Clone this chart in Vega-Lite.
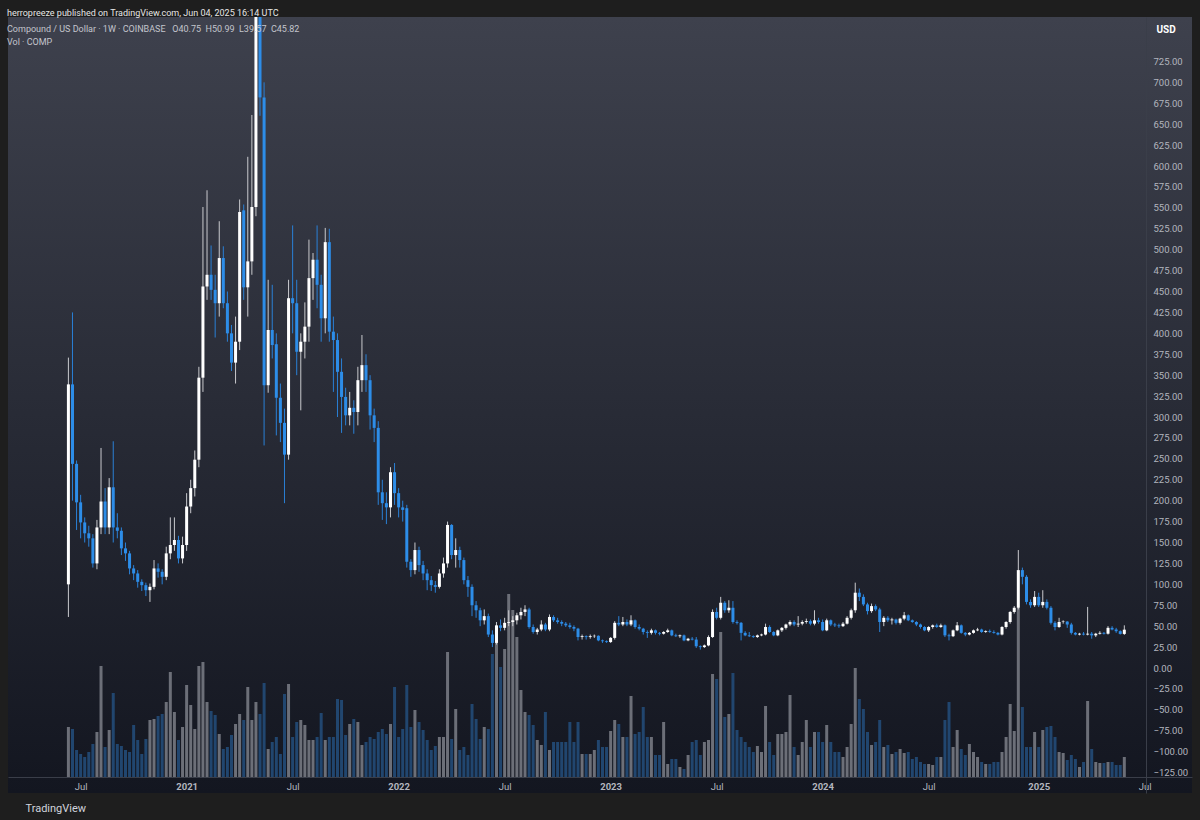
{
  "$schema": "https://vega.github.io/schema/vega-lite/v6.json",
  "width": 1184,
  "height": 776,
  "autosize": {"type": "none"},
  "padding": {"left": 8, "top": 17, "right": 8, "bottom": 27},
  "background": "#1e1e1e",
  "config": {
    "font": "Roboto",
    "view": {"stroke": null, "fill": {"gradient": "linear", "x1": 0, "y1": 0, "x2": 0, "y2": 1, "stops": [{"offset": 0, "color": "#3e414d"}, {"offset": 1, "color": "#131620"}]}}
  },
  "title": {
    "text": "herropreeze published on TradingView.com, Jun 04, 2025 16:14 UTC",
    "subtitle": ["\u00a0Compound / US Dollar · 1W · COINBASE\u00a0\u00a0 O40.75\u00a0\u00a0H50.99\u00a0\u00a0L39.57\u00a0\u00a0C45.82", "\u00a0Vol · COMP"],
    "anchor": "start", "frame": "group", "orient": "top", "offset": -30, "dx": -1,
    "color": "#e6e6e6", "fontSize": 9, "fontWeight": "normal", "font": "Roboto",
    "subtitleColor": "#c3c5cc", "subtitleFontSize": 9, "subtitleFont": "Roboto", "subtitleLineHeight": 13, "subtitlePadding": 7
  },
  "data": {"values": [
{"t":"2020-06-15","o":100,"h":371,"l":61,"c":339,"v":50},
{"t":"2020-06-22","o":339,"h":425,"l":200,"c":244,"v":48},
{"t":"2020-06-29","o":244,"h":248,"l":165,"c":198,"v":27},
{"t":"2020-07-06","o":198,"h":207,"l":155,"c":174,"v":23},
{"t":"2020-07-13","o":174,"h":180,"l":150,"c":161,"v":20},
{"t":"2020-07-20","o":161,"h":170,"l":145,"c":155,"v":25},
{"t":"2020-07-27","o":155,"h":160,"l":120,"c":125,"v":33},
{"t":"2020-08-03","o":125,"h":177,"l":118,"c":168,"v":45},
{"t":"2020-08-10","o":168,"h":263,"l":160,"c":199,"v":111},
{"t":"2020-08-17","o":199,"h":215,"l":160,"c":168,"v":30},
{"t":"2020-08-24","o":168,"h":227,"l":160,"c":216,"v":47},
{"t":"2020-08-31","o":216,"h":271,"l":150,"c":168,"v":84},
{"t":"2020-09-07","o":168,"h":185,"l":155,"c":164,"v":33},
{"t":"2020-09-14","o":164,"h":168,"l":135,"c":143,"v":31},
{"t":"2020-09-21","o":143,"h":150,"l":128,"c":137,"v":27},
{"t":"2020-09-28","o":137,"h":140,"l":112,"c":119,"v":25},
{"t":"2020-10-05","o":119,"h":123,"l":105,"c":113,"v":52},
{"t":"2020-10-12","o":113,"h":117,"l":96,"c":103,"v":37},
{"t":"2020-10-19","o":103,"h":106,"l":92,"c":99,"v":23},
{"t":"2020-10-26","o":99,"h":102,"l":86,"c":93,"v":38},
{"t":"2020-11-02","o":93,"h":101,"l":79,"c":97,"v":57},
{"t":"2020-11-09","o":97,"h":129,"l":94,"c":119,"v":58},
{"t":"2020-11-16","o":119,"h":125,"l":108,"c":115,"v":61},
{"t":"2020-11-23","o":115,"h":118,"l":100,"c":109,"v":63},
{"t":"2020-11-30","o":109,"h":145,"l":105,"c":137,"v":75},
{"t":"2020-12-07","o":137,"h":180,"l":130,"c":147,"v":105},
{"t":"2020-12-14","o":147,"h":180,"l":140,"c":153,"v":65},
{"t":"2020-12-21","o":153,"h":158,"l":125,"c":131,"v":37},
{"t":"2020-12-28","o":131,"h":157,"l":125,"c":147,"v":50},
{"t":"2021-01-04","o":147,"h":209,"l":140,"c":193,"v":92},
{"t":"2021-01-11","o":193,"h":225,"l":185,"c":215,"v":72},
{"t":"2021-01-18","o":215,"h":260,"l":205,"c":249,"v":48},
{"t":"2021-01-25","o":249,"h":360,"l":240,"c":347,"v":111},
{"t":"2021-02-01","o":347,"h":551,"l":330,"c":456,"v":115},
{"t":"2021-02-08","o":456,"h":571,"l":440,"c":470,"v":75},
{"t":"2021-02-15","o":470,"h":505,"l":440,"c":452,"v":66},
{"t":"2021-02-22","o":452,"h":470,"l":395,"c":436,"v":62},
{"t":"2021-03-01","o":436,"h":534,"l":420,"c":490,"v":43},
{"t":"2021-03-08","o":490,"h":504,"l":430,"c":436,"v":28},
{"t":"2021-03-15","o":436,"h":450,"l":390,"c":400,"v":30},
{"t":"2021-03-22","o":400,"h":410,"l":355,"c":365,"v":42},
{"t":"2021-03-29","o":365,"h":420,"l":340,"c":390,"v":53},
{"t":"2021-04-05","o":390,"h":560,"l":380,"c":545,"v":63},
{"t":"2021-04-12","o":547,"h":554,"l":440,"c":455,"v":57},
{"t":"2021-04-19","o":455,"h":611,"l":420,"c":486,"v":90},
{"t":"2021-04-26","o":486,"h":661,"l":470,"c":551,"v":57},
{"t":"2021-05-03","o":551,"h":850,"l":540,"c":790,"v":75},
{"t":"2021-05-10","o":790,"h":911,"l":660,"c":682,"v":63},
{"t":"2021-05-17","o":682,"h":700,"l":266,"c":338,"v":94},
{"t":"2021-05-24","o":338,"h":464,"l":329,"c":404,"v":28},
{"t":"2021-05-31","o":404,"h":458,"l":370,"c":386,"v":35},
{"t":"2021-06-07","o":387,"h":400,"l":278,"c":323,"v":40},
{"t":"2021-06-14","o":323,"h":340,"l":270,"c":293,"v":23},
{"t":"2021-06-21","o":293,"h":310,"l":197,"c":255,"v":83},
{"t":"2021-06-28","o":255,"h":464,"l":249,"c":442,"v":93},
{"t":"2021-07-05","o":442,"h":529,"l":400,"c":436,"v":40},
{"t":"2021-07-12","o":436,"h":464,"l":350,"c":378,"v":55},
{"t":"2021-07-19","o":378,"h":400,"l":308,"c":390,"v":57},
{"t":"2021-07-26","o":390,"h":437,"l":370,"c":408,"v":52},
{"t":"2021-08-02","o":408,"h":512,"l":390,"c":466,"v":37},
{"t":"2021-08-09","o":466,"h":496,"l":440,"c":488,"v":37},
{"t":"2021-08-16","o":488,"h":529,"l":430,"c":458,"v":40},
{"t":"2021-08-23","o":458,"h":470,"l":390,"c":418,"v":64},
{"t":"2021-08-30","o":418,"h":526,"l":400,"c":509,"v":37},
{"t":"2021-09-06","o":509,"h":525,"l":390,"c":402,"v":40},
{"t":"2021-09-13","o":402,"h":420,"l":330,"c":392,"v":40},
{"t":"2021-09-20","o":392,"h":400,"l":300,"c":354,"v":78},
{"t":"2021-09-27","o":354,"h":370,"l":281,"c":324,"v":77},
{"t":"2021-10-04","o":324,"h":335,"l":290,"c":302,"v":42},
{"t":"2021-10-11","o":302,"h":330,"l":290,"c":311,"v":53},
{"t":"2021-10-18","o":311,"h":320,"l":280,"c":306,"v":58},
{"t":"2021-10-25","o":306,"h":360,"l":290,"c":344,"v":55},
{"t":"2021-11-01","o":344,"h":398,"l":330,"c":362,"v":32},
{"t":"2021-11-08","o":362,"h":375,"l":330,"c":344,"v":35},
{"t":"2021-11-15","o":344,"h":350,"l":285,"c":302,"v":40},
{"t":"2021-11-22","o":302,"h":310,"l":270,"c":287,"v":38},
{"t":"2021-11-29","o":287,"h":295,"l":195,"c":210,"v":45},
{"t":"2021-12-06","o":210,"h":225,"l":177,"c":197,"v":48},
{"t":"2021-12-13","o":197,"h":210,"l":172,"c":192,"v":43},
{"t":"2021-12-20","o":192,"h":240,"l":180,"c":234,"v":53},
{"t":"2021-12-27","o":234,"h":245,"l":195,"c":209,"v":90},
{"t":"2022-01-03","o":209,"h":215,"l":180,"c":192,"v":40},
{"t":"2022-01-10","o":192,"h":200,"l":175,"c":189,"v":48},
{"t":"2022-01-17","o":191,"h":195,"l":120,"c":127,"v":92},
{"t":"2022-01-24","o":127,"h":130,"l":109,"c":117,"v":50},
{"t":"2022-01-31","o":117,"h":150,"l":112,"c":141,"v":67},
{"t":"2022-02-07","o":141,"h":145,"l":115,"c":123,"v":55},
{"t":"2022-02-14","o":123,"h":128,"l":105,"c":113,"v":47},
{"t":"2022-02-21","o":113,"h":118,"l":93,"c":105,"v":37},
{"t":"2022-02-28","o":105,"h":110,"l":92,"c":99,"v":27},
{"t":"2022-03-07","o":99,"h":104,"l":90,"c":97,"v":31},
{"t":"2022-03-14","o":97,"h":118,"l":95,"c":113,"v":40},
{"t":"2022-03-21","o":113,"h":132,"l":108,"c":125,"v":40},
{"t":"2022-03-28","o":125,"h":175,"l":120,"c":171,"v":125},
{"t":"2022-04-04","o":171,"h":172,"l":130,"c":135,"v":38},
{"t":"2022-04-11","o":135,"h":155,"l":120,"c":141,"v":68},
{"t":"2022-04-18","o":141,"h":145,"l":120,"c":129,"v":27},
{"t":"2022-04-25","o":129,"h":132,"l":100,"c":105,"v":30},
{"t":"2022-05-02","o":105,"h":110,"l":85,"c":97,"v":22},
{"t":"2022-05-09","o":97,"h":100,"l":62,"c":75,"v":73},
{"t":"2022-05-16","o":75,"h":80,"l":60,"c":69,"v":58},
{"t":"2022-05-23","o":69,"h":72,"l":50,"c":57,"v":38},
{"t":"2022-05-30","o":57,"h":70,"l":52,"c":62,"v":50},
{"t":"2022-06-06","o":62,"h":65,"l":37,"c":40,"v":48},
{"t":"2022-06-13","o":40,"h":45,"l":25,"c":30,"v":123},
{"t":"2022-06-20","o":30,"h":55,"l":28,"c":51,"v":136},
{"t":"2022-06-27","o":51,"h":58,"l":44,"c":48,"v":110},
{"t":"2022-07-04","o":48,"h":60,"l":45,"c":54,"v":128},
{"t":"2022-07-11","o":54,"h":69,"l":50,"c":55,"v":183},
{"t":"2022-07-18","o":55,"h":62,"l":50,"c":57,"v":167},
{"t":"2022-07-25","o":57,"h":66,"l":52,"c":63,"v":140},
{"t":"2022-08-01","o":63,"h":72,"l":58,"c":67,"v":87},
{"t":"2022-08-08","o":67,"h":75,"l":62,"c":70,"v":65},
{"t":"2022-08-15","o":70,"h":72,"l":47,"c":49,"v":62},
{"t":"2022-08-22","o":49,"h":52,"l":41,"c":43,"v":52},
{"t":"2022-08-29","o":43,"h":48,"l":40,"c":46,"v":37},
{"t":"2022-09-05","o":46,"h":57,"l":44,"c":52,"v":32},
{"t":"2022-09-12","o":52,"h":54,"l":44,"c":46,"v":65},
{"t":"2022-09-19","o":46,"h":64,"l":44,"c":61,"v":27},
{"t":"2022-09-26","o":61,"h":63,"l":55,"c":57,"v":35},
{"t":"2022-10-03","o":57,"h":60,"l":53,"c":55,"v":35},
{"t":"2022-10-10","o":55,"h":57,"l":50,"c":53,"v":35},
{"t":"2022-10-17","o":53,"h":55,"l":49,"c":51,"v":35},
{"t":"2022-10-24","o":51,"h":54,"l":47,"c":49,"v":55},
{"t":"2022-10-31","o":49,"h":51,"l":44,"c":47,"v":35},
{"t":"2022-11-07","o":47,"h":48,"l":33,"c":37,"v":55},
{"t":"2022-11-14","o":37,"h":40,"l":34,"c":38,"v":23},
{"t":"2022-11-21","o":38,"h":39,"l":34,"c":37,"v":23},
{"t":"2022-11-28","o":37,"h":40,"l":35,"c":38,"v":23},
{"t":"2022-12-05","o":38,"h":40,"l":36,"c":38.5,"v":27},
{"t":"2022-12-12","o":38.5,"h":39,"l":32,"c":33,"v":37},
{"t":"2022-12-19","o":33,"h":34,"l":30,"c":32,"v":30},
{"t":"2022-12-26","o":32,"h":33,"l":30,"c":31,"v":30},
{"t":"2023-01-02","o":31,"h":37,"l":30,"c":36,"v":46},
{"t":"2023-01-09","o":36,"h":56,"l":34,"c":54,"v":57},
{"t":"2023-01-16","o":54,"h":62,"l":50,"c":52,"v":53},
{"t":"2023-01-23","o":52,"h":61,"l":50,"c":55,"v":40},
{"t":"2023-01-30","o":55,"h":58,"l":50,"c":52,"v":40},
{"t":"2023-02-06","o":52,"h":63,"l":50,"c":57,"v":81},
{"t":"2023-02-13","o":57,"h":58,"l":47,"c":49,"v":43},
{"t":"2023-02-20","o":49,"h":52,"l":45,"c":47,"v":45},
{"t":"2023-02-27","o":47,"h":48,"l":40,"c":43,"v":70},
{"t":"2023-03-06","o":43,"h":45,"l":36,"c":42,"v":40},
{"t":"2023-03-13","o":42,"h":47,"l":40,"c":45,"v":40},
{"t":"2023-03-20","o":45,"h":46,"l":40,"c":42,"v":22},
{"t":"2023-03-27","o":42,"h":43,"l":39,"c":41,"v":22},
{"t":"2023-04-03","o":41,"h":44,"l":40,"c":43,"v":55},
{"t":"2023-04-10","o":43,"h":47,"l":42,"c":45,"v":13},
{"t":"2023-04-17","o":45,"h":46,"l":38,"c":39,"v":18},
{"t":"2023-04-24","o":39,"h":41,"l":37,"c":38,"v":18},
{"t":"2023-05-01","o":38,"h":40,"l":36,"c":39,"v":10},
{"t":"2023-05-08","o":39,"h":40,"l":32,"c":33,"v":8},
{"t":"2023-05-15","o":33,"h":36,"l":32,"c":35,"v":22},
{"t":"2023-05-22","o":35,"h":37,"l":33,"c":34,"v":35},
{"t":"2023-05-29","o":34,"h":37,"l":24,"c":26,"v":37},
{"t":"2023-06-05","o":26,"h":27,"l":22,"c":25,"v":22},
{"t":"2023-06-12","o":25,"h":28,"l":24,"c":27,"v":35},
{"t":"2023-06-19","o":27,"h":39,"l":26,"c":37,"v":37},
{"t":"2023-06-26","o":37,"h":70,"l":36,"c":67,"v":103},
{"t":"2023-07-03","o":67,"h":72,"l":58,"c":60,"v":98},
{"t":"2023-07-10","o":60,"h":85,"l":58,"c":78,"v":145},
{"t":"2023-07-17","o":78,"h":80,"l":66,"c":69,"v":60},
{"t":"2023-07-24","o":69,"h":81,"l":66,"c":72,"v":63},
{"t":"2023-07-31","o":72,"h":80,"l":53,"c":55,"v":104},
{"t":"2023-08-07","o":55,"h":57,"l":52,"c":54,"v":47},
{"t":"2023-08-14","o":54,"h":55,"l":33,"c":42,"v":40},
{"t":"2023-08-21","o":42,"h":44,"l":38,"c":39,"v":35},
{"t":"2023-08-28","o":39,"h":43,"l":37,"c":38,"v":30},
{"t":"2023-09-04","o":38,"h":39,"l":36,"c":37,"v":25},
{"t":"2023-09-11","o":37,"h":40,"l":36,"c":39,"v":31},
{"t":"2023-09-18","o":39,"h":41,"l":38,"c":40,"v":25},
{"t":"2023-09-25","o":40,"h":53,"l":39,"c":49,"v":71},
{"t":"2023-10-02","o":49,"h":51,"l":42,"c":43,"v":35},
{"t":"2023-10-09","o":43,"h":44,"l":38,"c":39,"v":22},
{"t":"2023-10-16","o":39,"h":46,"l":38,"c":45,"v":43},
{"t":"2023-10-23","o":45,"h":49,"l":43,"c":48,"v":43},
{"t":"2023-10-30","o":48,"h":53,"l":46,"c":52,"v":45},
{"t":"2023-11-06","o":52,"h":57,"l":50,"c":55,"v":82},
{"t":"2023-11-13","o":55,"h":57,"l":50,"c":52,"v":30},
{"t":"2023-11-20","o":52,"h":62,"l":49,"c":53,"v":22},
{"t":"2023-11-27","o":53,"h":57,"l":51,"c":55,"v":35},
{"t":"2023-12-04","o":55,"h":59,"l":53,"c":56,"v":57},
{"t":"2023-12-11","o":56,"h":58,"l":51,"c":53,"v":30},
{"t":"2023-12-18","o":53,"h":69,"l":51,"c":57,"v":45},
{"t":"2023-12-25","o":57,"h":60,"l":53,"c":55,"v":45},
{"t":"2024-01-01","o":55,"h":58,"l":44,"c":45,"v":35},
{"t":"2024-01-08","o":45,"h":59,"l":44,"c":57,"v":52},
{"t":"2024-01-15","o":57,"h":58,"l":50,"c":52,"v":35},
{"t":"2024-01-22","o":52,"h":54,"l":49,"c":51,"v":25},
{"t":"2024-01-29","o":51,"h":53,"l":48,"c":50,"v":25},
{"t":"2024-02-05","o":50,"h":55,"l":49,"c":53,"v":20},
{"t":"2024-02-12","o":53,"h":62,"l":52,"c":60,"v":30},
{"t":"2024-02-19","o":60,"h":71,"l":58,"c":69,"v":53},
{"t":"2024-02-26","o":69,"h":102,"l":66,"c":90,"v":109},
{"t":"2024-03-04","o":90,"h":95,"l":80,"c":85,"v":78},
{"t":"2024-03-11","o":85,"h":88,"l":74,"c":76,"v":68},
{"t":"2024-03-18","o":76,"h":78,"l":64,"c":68,"v":45},
{"t":"2024-03-25","o":68,"h":77,"l":66,"c":74,"v":32},
{"t":"2024-04-01","o":74,"h":76,"l":68,"c":70,"v":35},
{"t":"2024-04-08","o":70,"h":72,"l":43,"c":55,"v":57},
{"t":"2024-04-15","o":55,"h":62,"l":50,"c":60,"v":30},
{"t":"2024-04-22","o":60,"h":62,"l":55,"c":57,"v":32},
{"t":"2024-04-29","o":57,"h":60,"l":52,"c":58,"v":23},
{"t":"2024-05-06","o":58,"h":59,"l":52,"c":54,"v":25},
{"t":"2024-05-13","o":54,"h":60,"l":52,"c":59,"v":28},
{"t":"2024-05-20","o":59,"h":67,"l":57,"c":63,"v":24},
{"t":"2024-05-27","o":63,"h":64,"l":56,"c":57,"v":25},
{"t":"2024-06-03","o":57,"h":58,"l":54,"c":55,"v":18},
{"t":"2024-06-10","o":55,"h":56,"l":50,"c":52,"v":20},
{"t":"2024-06-17","o":52,"h":53,"l":47,"c":49,"v":15},
{"t":"2024-06-24","o":49,"h":50,"l":44,"c":45,"v":13},
{"t":"2024-07-01","o":45,"h":50,"l":43,"c":49,"v":13},
{"t":"2024-07-08","o":49,"h":52,"l":47,"c":51,"v":12},
{"t":"2024-07-15","o":51,"h":53,"l":48,"c":49,"v":20},
{"t":"2024-07-22","o":49,"h":53,"l":48,"c":51,"v":20},
{"t":"2024-07-29","o":51,"h":52,"l":37,"c":39,"v":57},
{"t":"2024-08-05","o":39,"h":41,"l":33,"c":38,"v":75},
{"t":"2024-08-12","o":38,"h":46,"l":37,"c":45,"v":30},
{"t":"2024-08-19","o":45,"h":55,"l":44,"c":51,"v":47},
{"t":"2024-08-26","o":51,"h":52,"l":41,"c":42,"v":28},
{"t":"2024-09-02","o":42,"h":43,"l":38,"c":40,"v":22},
{"t":"2024-09-09","o":40,"h":43,"l":39,"c":42,"v":33},
{"t":"2024-09-16","o":42,"h":46,"l":41,"c":45,"v":25},
{"t":"2024-09-23","o":45,"h":48,"l":44,"c":46,"v":20},
{"t":"2024-09-30","o":46,"h":47,"l":42,"c":43,"v":15},
{"t":"2024-10-07","o":43,"h":45,"l":42,"c":44,"v":13},
{"t":"2024-10-14","o":44,"h":46,"l":42,"c":43,"v":13},
{"t":"2024-10-21","o":43,"h":45,"l":41,"c":42,"v":15},
{"t":"2024-10-28","o":42,"h":43,"l":39,"c":40,"v":15},
{"t":"2024-11-04","o":40,"h":50,"l":39,"c":49,"v":25},
{"t":"2024-11-11","o":49,"h":56,"l":47,"c":55,"v":40},
{"t":"2024-11-18","o":55,"h":68,"l":53,"c":67,"v":73},
{"t":"2024-11-25","o":67,"h":74,"l":65,"c":72,"v":46},
{"t":"2024-12-02","o":72,"h":141,"l":70,"c":117,"v":169},
{"t":"2024-12-09","o":117,"h":120,"l":100,"c":109,"v":70},
{"t":"2024-12-16","o":109,"h":111,"l":76,"c":79,"v":30},
{"t":"2024-12-23","o":79,"h":82,"l":72,"c":75,"v":30},
{"t":"2024-12-30","o":75,"h":92,"l":73,"c":85,"v":45},
{"t":"2025-01-06","o":85,"h":90,"l":73,"c":75,"v":30},
{"t":"2025-01-13","o":75,"h":93,"l":72,"c":79,"v":47},
{"t":"2025-01-20","o":79,"h":82,"l":70,"c":72,"v":50},
{"t":"2025-01-27","o":72,"h":74,"l":52,"c":54,"v":51},
{"t":"2025-02-03","o":54,"h":56,"l":45,"c":49,"v":40},
{"t":"2025-02-10","o":49,"h":60,"l":48,"c":55,"v":25},
{"t":"2025-02-17","o":55,"h":57,"l":53,"c":55.5,"v":24},
{"t":"2025-02-24","o":55.5,"h":56,"l":48,"c":52,"v":17},
{"t":"2025-03-03","o":52,"h":54,"l":40,"c":42,"v":22},
{"t":"2025-03-10","o":42,"h":43,"l":39,"c":40,"v":18},
{"t":"2025-03-17","o":40,"h":42,"l":39,"c":41,"v":10},
{"t":"2025-03-24","o":41,"h":43,"l":39,"c":40,"v":15},
{"t":"2025-03-31","o":40,"h":73,"l":39,"c":41,"v":76},
{"t":"2025-04-07","o":41,"h":43,"l":35,"c":39,"v":28},
{"t":"2025-04-14","o":39,"h":42,"l":37,"c":41,"v":15},
{"t":"2025-04-21","o":41,"h":44,"l":40,"c":42,"v":14},
{"t":"2025-04-28","o":42,"h":43,"l":40,"c":41,"v":14},
{"t":"2025-05-05","o":41,"h":50,"l":40,"c":48,"v":15},
{"t":"2025-05-12","o":48,"h":50,"l":45,"c":46,"v":15},
{"t":"2025-05-19","o":46,"h":48,"l":42,"c":44,"v":12},
{"t":"2025-05-26","o":44,"h":45,"l":40,"c":40.75,"v":12},
{"t":"2025-06-02","o":40.75,"h":50.99,"l":39.57,"c":45.82,"v":20}
  ]},
  "encoding": {
    "x": {
      "field": "t", "type": "temporal",
      "scale": {"type": "utc", "padding": 0, "nice": false, "domain": [{"year": 2020, "month": 3, "date": 3, "hours": 7, "utc": true}, {"year": 2025, "month": 9, "date": 26, "hours": 5, "utc": true}]},
      "axis": {
        "orient": "bottom", "offset": -16, "grid": false, "ticks": false, "tickSize": 0,
        "domainColor": "#3a3e49", "domainWidth": 1,
        "labelColor": "#b2b5be", "labelFontSize": 9.5, "labelPadding": 4, "labelFlush": false, "labelOverlap": false,
        "labelFontWeight": {"condition": {"test": "utcmonth(datum.value) == 0", "value": "bold"}, "value": "normal"},
        "values": [
          {"year": 2020, "month": 7, "date": 6, "utc": true},
          {"year": 2021, "month": 1, "date": 4, "utc": true},
          {"year": 2021, "month": 7, "date": 5, "utc": true},
          {"year": 2022, "month": 1, "date": 3, "utc": true},
          {"year": 2022, "month": 7, "date": 4, "utc": true},
          {"year": 2023, "month": 1, "date": 2, "utc": true},
          {"year": 2023, "month": 7, "date": 3, "utc": true},
          {"year": 2024, "month": 1, "date": 1, "utc": true},
          {"year": 2024, "month": 7, "date": 1, "utc": true},
          {"year": 2025, "month": 1, "date": 6, "utc": true},
          {"year": 2025, "month": 7, "date": 7, "utc": true}
        ],
        "labelExpr": "utcmonth(datum.value) == 0 ? utcFormat(datum.value, '%Y') : utcFormat(datum.value, '%b')",
        "title": "TradingView", "titleX": 17, "titleY": 31, "titleAlign": "left", "titleBaseline": "middle", "titleAnchor": null,
        "titleColor": "#d1d4dc", "titleFontSize": 11, "titleFontWeight": "normal"
      }
    }
  },
  "layer": [
    {
      "mark": {"type": "bar", "size": 3, "clip": true},
      "encoding": {
        "y": {"field": "v", "type": "quantitative", "scale": {"domain": [-16, 760], "nice": false, "zero": false}, "axis": null},
        "y2": {"datum": 0},
        "color": {"condition": {"test": "datum.c >= datum.o", "value": "#6c6f78"}, "value": "#21466f"}
      }
    },
    {
      "mark": {"type": "rule", "clip": true, "strokeWidth": 1},
      "encoding": {
        "y": {"field": "l", "type": "quantitative", "scale": {"domain": [-149.4, 778.1], "nice": false, "zero": false},
          "axis": {
            "orient": "right", "offset": -46, "grid": false, "ticks": false, "tickSize": 0,
            "domainColor": "#3a3e49", "labelColor": "#b2b5be", "labelFontSize": 9.5, "labelPadding": 7,
            "labelAlign": "left", "labelFlush": false, "labelOverlap": false, "format": ".2f",
            "values": [-125,-100,-75,-50,-25,0,25,50,75,100,125,150,175,200,225,250,275,300,325,350,375,400,425,450,475,500,525,550,575,600,625,650,675,700,725],
            "title": "USD", "titleAngle": 0, "titleX": 10, "titleY": 12, "titleAlign": "left", "titleBaseline": "middle",
            "titleColor": "#ffffff", "titleFontSize": 10, "titleFontWeight": "bold"
          }},
        "y2": {"field": "h"},
        "color": {"condition": {"test": "datum.c >= datum.o", "value": "#c9cace"}, "value": "#2a80d6"}
      }
    },
    {
      "mark": {"type": "bar", "size": 3, "clip": true},
      "encoding": {
        "y": {"field": "o", "type": "quantitative", "scale": {"domain": [-149.4, 778.1], "nice": false, "zero": false}, "axis": null},
        "y2": {"field": "c"},
        "color": {"condition": {"test": "datum.c >= datum.o", "value": "#ffffff"}, "value": "#2d8de8"}
      }
    }
  ],
  "resolve": {"scale": {"y": "independent"}}
}
